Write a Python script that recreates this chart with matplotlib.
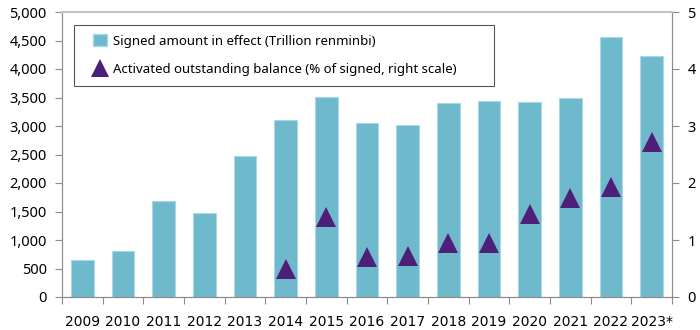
import matplotlib
matplotlib.use("Agg")
import matplotlib.pyplot as plt
import numpy as np
from matplotlib.lines import Line2D
from matplotlib.patches import Patch, Rectangle

years = ["2009", "2010", "2011", "2012", "2013", "2014", "2015", "2016",
         "2017", "2018", "2019", "2020", "2021", "2022", "2023*"]
signed_amount = [650, 800, 1680, 1480, 2480, 3110, 3510, 3050,
                 3020, 3410, 3440, 3420, 3500, 4560, 4220]
activated_years = ["2014", "2015", "2016", "2017", "2018", "2019",
                   "2020", "2021", "2022", "2023*"]
activated_pct = [0.49, 1.40, 0.71, 0.72, 0.95, 0.94, 1.46, 1.74, 1.93, 2.72]

left_ticks = [0, 500, 1000, 1500, 2000, 2500, 3000, 3500, 4000, 4500, 5000]
right_ticks = [0, 1, 2, 3, 4, 5]

bar_color = "#6fb9cd"
bar_edge = "#a9d7e4"
tri_color = "#4e1f78"
spine_grey = "#8c8c8c"

fig = plt.figure(figsize=(7, 3.3), dpi=100)
ax = fig.add_axes([62 / 700, 33 / 330, 610 / 700, 285 / 330])
ax2 = ax.twinx()

x = np.arange(len(years))
ax.bar(x, signed_amount, width=0.55, color=bar_color, edgecolor=bar_edge,
       linewidth=0.8, zorder=2)

xa = [years.index(y) for y in activated_years]
ax2.plot(xa, activated_pct, linestyle="none", marker="^", markersize=14,
         color=tri_color, markeredgewidth=0, zorder=3)

ax.set_xlim(-0.5, len(years) - 0.5)
ax.set_ylim(0, 5000)
ax2.set_ylim(0, 5)

ax.set_yticks(left_ticks)
ax.set_yticklabels([f"{v:,}" for v in left_ticks])
ax2.set_yticks(right_ticks)
ax2.set_yticklabels([str(v) for v in right_ticks])

ax.set_xticks(x)
ax.set_xticklabels(years, fontfamily="DejaVu Sans", fontsize=10)
ax.set_xticks(np.arange(-0.5, len(years), 1.0), minor=True)
ax.tick_params(axis="x", which="major", length=0, pad=13)
ax.tick_params(axis="x", which="minor", length=5, color=spine_grey, width=0.8)
ax.tick_params(axis="y", length=5, color=spine_grey, width=0.8, pad=6,
               labelsize=10.5)
ax2.tick_params(axis="y", length=5, color=spine_grey, width=0.8, pad=6,
                labelsize=10.5)
for lab in ax.get_yticklabels() + ax2.get_yticklabels():
    lab.set_fontfamily("Noto Sans")
    lab.set_fontweight("medium")

for a in (ax, ax2):
    a.spines["left"].set_color(spine_grey)
    a.spines["right"].set_color(spine_grey)
    a.spines["bottom"].set_color(spine_grey)
    a.spines["top"].set_color("#c4c4c4")
    a.spines["top"].set_linewidth(1.5)
    for s in ("left", "right", "bottom"):
        a.spines[s].set_linewidth(0.8)

# legend frame drawn separately so its size is fixed
ax2.add_patch(Rectangle((12 / 610, 1 - 74 / 285), 420 / 610, 61 / 285,
                        transform=ax2.transAxes, facecolor="white",
                        edgecolor="#555555", linewidth=0.8, zorder=4))

handles = [
    Patch(facecolor=bar_color, edgecolor=bar_edge,
          label="Signed amount in effect (Trillion renminbi)"),
    Line2D([], [], linestyle="none", marker="^", markersize=13,
           color=tri_color, markeredgewidth=0,
           label="Activated outstanding balance (% of signed, right scale)"),
]
leg = ax2.legend(handles=handles, loc="upper left",
                 bbox_to_anchor=(31 / 610, 1 - 22 / 285), borderaxespad=0,
                 frameon=False, handlelength=1.05, handleheight=1.05,
                 handletextpad=0.45, labelspacing=1.12, borderpad=0,
                 prop={"family": "Noto Sans", "size": 9.5})
leg.set_zorder(5)

fig.savefig("out.png", dpi=100)
